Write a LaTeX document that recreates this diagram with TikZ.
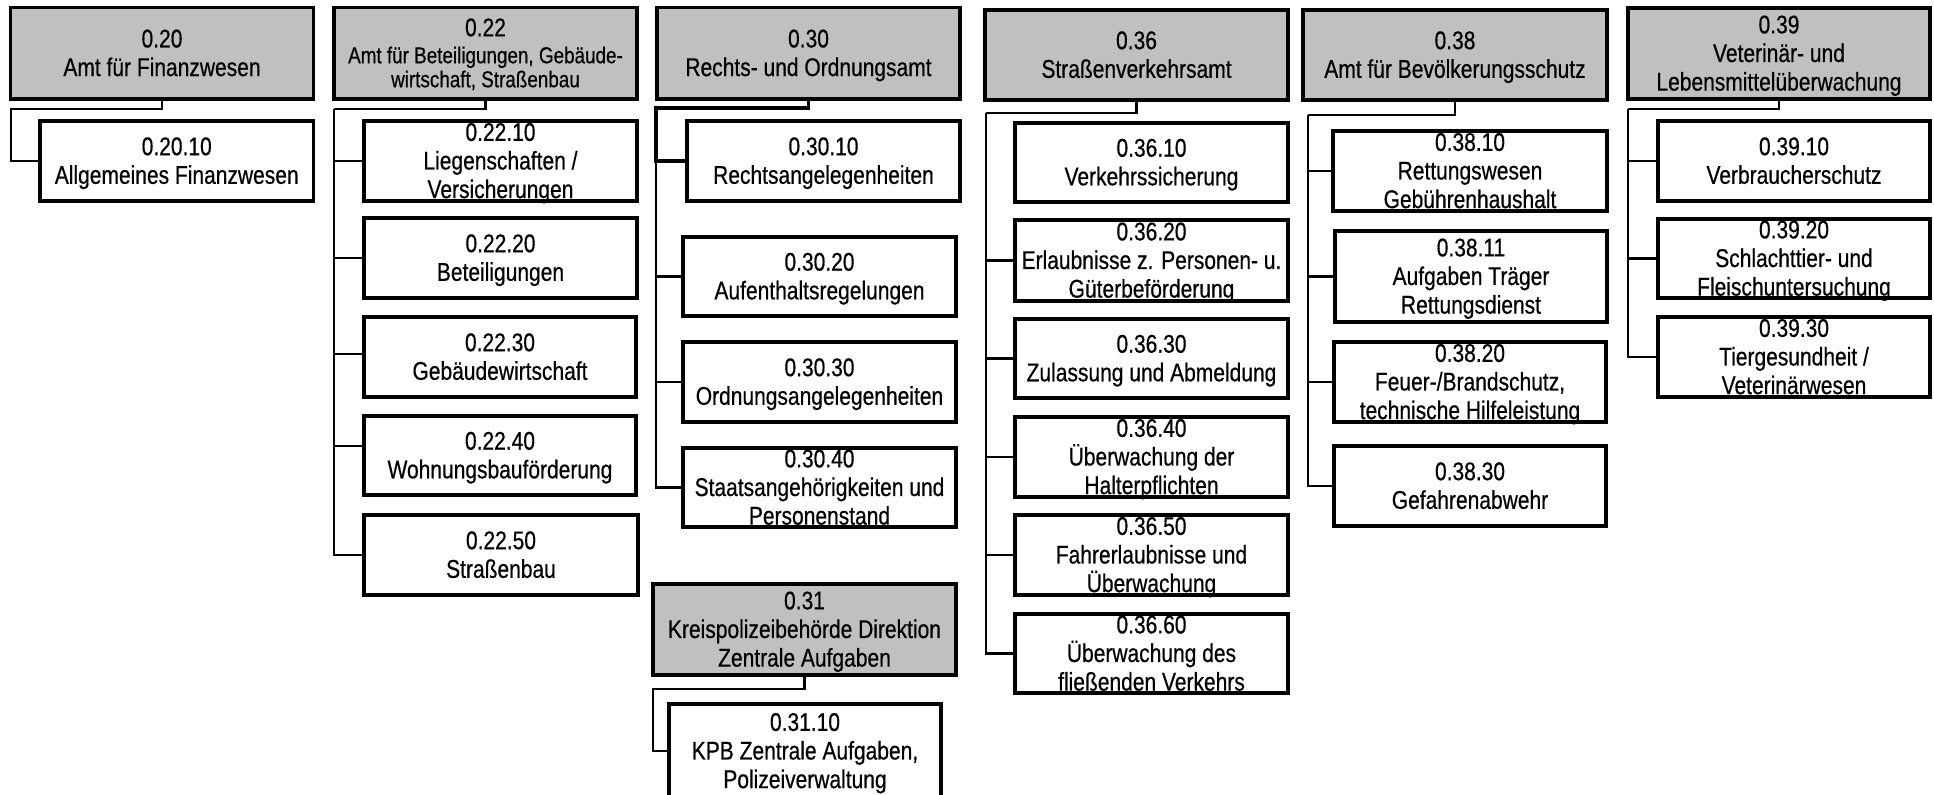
\documentclass[tikz,border=0pt]{standalone}
\usepackage{fontspec}
\setmainfont{Liberation Sans}[FakeStretch=0.82,FakeBold=0.5]
\definecolor{hdr}{RGB}{192,192,192}
\newcommand\zs{\rule[-2.9pt]{0pt}{14.3pt}}
\newcommand\smf{\fontsize{11.5pt}{12pt}\selectfont}
\newcommand\orgbox[7]{%
  \node[#2, minimum width={(#5-#3)*0.5pt}, minimum height={(#6-#4)*0.5pt}] (#1) at ({(#3+#5)/2},{(#4+#6)/2}) {};
  \node[txt] (#1t) at (#1.center) {#7};}
\begin{document}
\begin{tikzpicture}[x=0.5pt,y=-0.5pt,
  box/.style={draw=black, line width=1.6pt, fill=white, inner sep=0pt, outer sep=0pt},
  hbox/.style={box, fill=hdr},
  txt/.style={align=center, inner sep=0pt, font=\fontsize{12.8pt}{14.3pt}\selectfont},
  conn/.style={line width=1.1pt},
  tconn/.style={line width=1.7pt}]
\useasboundingbox (0,0) rectangle (1934,795);
\clip (0,0) rectangle (1934,795);

% column 0.20
\orgbox{h20}{hbox}{10.5}{7.5}{313.5}{99}{\zs 0.20\\\zs Amt für Finanzwesen}
\orgbox{b2010}{box}{40}{121}{313.5}{201}{\zs 0.20.10\\\zs Allgemeines Finanzwesen}

% column 0.22
\orgbox{h22}{hbox}{334}{7.5}{637}{99}{\zs 0.22\\[-0.8pt]\smf\zs Amt für Beteiligungen, Gebäude-\\[-2.3pt]\smf\zs wirtschaft, Straßenbau}
\orgbox{b2210}{box}{364}{121}{637}{201}{\zs 0.22.10\\\zs Liegenschaften /\\\zs Versicherungen}
\orgbox{b2220}{box}{364}{218}{637}{298}{\zs 0.22.20\\\zs Beteiligungen}
\orgbox{b2230}{box}{364}{317}{636}{397}{\zs 0.22.30\\\zs Gebäudewirtschaft}
\orgbox{b2240}{box}{364}{416}{636}{495}{\zs 0.22.40\\\zs Wohnungsbauförderung}
\orgbox{b2250}{box}{364}{515}{638}{595}{\zs 0.22.50\\\zs Straßenbau}

% column 0.30
\orgbox{h30}{hbox}{657}{7.5}{960}{99}{\zs 0.30\\\zs Rechts- und Ordnungsamt}
\orgbox{b3010}{box}{687}{121}{960}{201}{\zs 0.30.10\\\zs Rechtsangelegenheiten}
\orgbox{b3020}{box}{683}{237}{956}{316}{\zs 0.30.20\\\zs Aufenthaltsregelungen}
\orgbox{b3030}{box}{683}{342}{956}{422}{\zs 0.30.30\\\zs Ordnungsangelegenheiten}
\orgbox{b3040}{box}{683}{448}{956}{527}{\zs 0.30.40\\\zs Staatsangehörigkeiten und\\\zs Personenstand}

% column 0.31
\orgbox{h31}{hbox}{653}{584}{956}{675}{\zs 0.31\\\zs Kreispolizeibehörde Direktion\\\zs Zentrale Aufgaben}
\orgbox{b3110}{box}{669}{704}{941}{798}{\zs 0.31.10\\\zs KPB Zentrale Aufgaben,\\\zs Polizeiverwaltung}

% column 0.36
\orgbox{h36}{hbox}{985}{10}{1288}{100}{\zs 0.36\\\zs Straßenverkehrsamt}
\orgbox{b3610}{box}{1015}{123}{1288}{202}{\zs 0.36.10\\\zs Verkehrssicherung}
\orgbox{b3620}{box}{1015}{220}{1288}{301}{\zs 0.36.20\\\zs Erlaubnisse z. Personen- u.\\\zs Güterbeförderung}
\orgbox{b3630}{box}{1015}{319}{1288}{398}{\zs 0.36.30\\\zs Zulassung und Abmeldung}
\orgbox{b3640}{box}{1015}{417}{1288}{497}{\zs 0.36.40\\\zs Überwachung der\\\zs Halterpflichten}
\orgbox{b3650}{box}{1015}{515}{1288}{595}{\zs 0.36.50\\\zs Fahrerlaubnisse und\\\zs Überwachung}
\orgbox{b3660}{box}{1015}{614}{1288}{693}{\zs 0.36.60\\\zs Überwachung des\\\zs fließenden Verkehrs}

% column 0.38
\orgbox{h38}{hbox}{1303}{10}{1607}{100}{\zs 0.38\\\zs Amt für Bevölkerungsschutz}
\orgbox{b3810}{box}{1333}{131}{1607}{211}{\zs 0.38.10\\\zs Rettungswesen\\\zs Gebührenhaushalt}
\orgbox{b3811}{box}{1335}{231}{1607}{322}{\zs 0.38.11\\\zs Aufgaben Träger\\\zs Rettungsdienst}
\orgbox{b3820}{box}{1334}{342}{1606}{422}{\zs 0.38.20\\\zs Feuer-/Brandschutz,\\\zs technische Hilfeleistung}
\orgbox{b3830}{box}{1334}{446}{1606}{526}{\zs 0.38.30\\\zs Gefahrenabwehr}

% column 0.39
\orgbox{h39}{hbox}{1628}{8}{1930}{99}{\zs 0.39\\\zs Veterinär- und\\\zs Lebensmittelüberwachung}
\orgbox{b3910}{box}{1658}{121}{1930}{201}{\zs 0.39.10\\\zs Verbraucherschutz}
\orgbox{b3920}{box}{1658}{219}{1930}{298}{\zs 0.39.20\\\zs Schlachttier- und\\\zs Fleischuntersuchung}
\orgbox{b3930}{box}{1658}{317}{1930}{397}{\zs 0.39.30\\\zs Tiergesundheit /\\\zs Veterinärwesen}

% junction coordinates
\coordinate (j20) at (11,109);
\coordinate (j22) at (334,109);
\coordinate (j30) at (656,108);
\coordinate (j31) at (653,689);
\coordinate (j36) at (986,113);
\coordinate (j38) at (1308,115);
\coordinate (j39) at (1628,109);

% connectors
\draw[conn] (h20.south) |- (j20) |- (b2010.west);

\draw[conn] (h22.south) |- (j22);
\draw[conn] (j22) |- (b2210.west);
\draw[conn] (j22) |- (b2220.west);
\draw[conn] (j22) |- ([yshift=1.5pt]b2230.west);
\draw[conn] (j22) |- ([yshift=4.7pt]b2240.west);
\draw[conn] (j22) |- (b2250.west);

\draw[tconn] (h30.south) |- (j30) |- (b3010.west);
\draw[conn] (j30) |- (b3020.west);
\draw[conn] (j30) |- (b3030.west);
\draw[conn] (j30) |- (b3040.west);

\draw[conn] (h31.south) |- (j31) |- (b3110.west);

\draw[conn] (h36.south) |- (j36);
\draw[conn] (j36) |- (b3620.west);
\draw[conn] (j36) |- (b3630.west);
\draw[conn] (j36) |- (b3640.west);
\draw[conn] (j36) |- (b3650.west);
\draw[conn] (j36) |- (b3660.west);

\draw[conn] (h38.south) |- (j38);
\draw[conn] (j38) |- (b3810.west);
\draw[conn] (j38) |- (b3811.west);
\draw[conn] (j38) |- (b3820.west);
\draw[conn] (j38) |- (b3830.west);

\draw[conn] (h39.south) |- (j39);
\draw[conn] (j39) |- (b3910.west);
\draw[conn] (j39) |- (b3920.west);
\draw[conn] (j39) |- (b3930.west);
\end{tikzpicture}
\end{document}
